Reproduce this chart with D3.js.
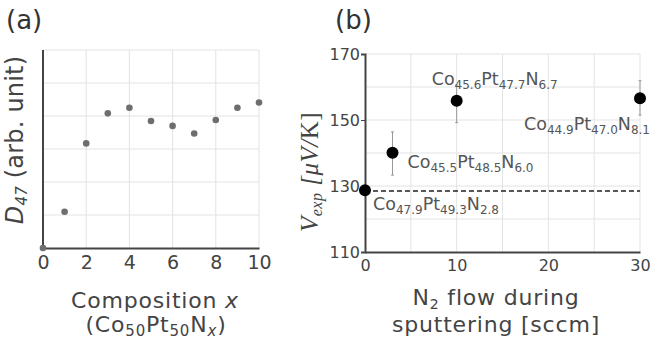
<!DOCTYPE html>
<html>
<head>
<meta charset="utf-8">
<script src="https://cdn.jsdelivr.net/npm/d3@7"></script>
<style>
  body { margin: 0; background: #fff; }
  svg { display: block; }
  .tick text { font-family: "DejaVu Sans", Verdana, sans-serif; fill: #444; }
</style>
</head>
<body>
<svg id="chart" width="651" height="345"></svg>
<script>
// panel (a): D47 vs composition x
var compX = [0, 1, 2, 3, 4, 5, 6, 7, 8, 9, 10];
var d47 = [0, 1.1, 3.17, 4.08, 4.25, 3.85, 3.7, 3.47, 3.88, 4.25, 4.41];
var compTicks = [0, 2, 4, 6, 8, 10];

// panel (b): Vexp vs N2 flow
var flow = [0, 3, 10, 30];
var vexp = [128.7, 140.1, 155.8, 156.6];
var errLo = [null, 133.3, 149.2, 151.5];
var errHi = [null, 146.4, 160.6, 161.9];
var coFrac = ["47.9", "45.5", "45.6", "44.9"];
var ptFrac = ["49.3", "48.5", "47.7", "47.0"];
var nFrac = ["2.8", "6.0", "6.7", "8.1"];
var refLine = 128.5;
var flowTicks = [0, 10, 20, 30];
var vTicks = [110, 130, 150, 170];

// label offsets from each point (px)
var labelOff = [[8, 20], [15, 15], [-25, -16], [-116, 32]];

var font = '"DejaVu Sans", Verdana, sans-serif';
var svg = d3.select("#chart");

// ---------- panel (a) ----------
var xa = d3.scaleLinear().domain([0, 10]).range([43, 259]);
var ya = d3.scaleLinear().domain([0, 6]).range([248, 50]);

var ga = svg.append("g");

ga.append("g").selectAll("line.v")
  .data(compTicks.slice(1)).enter().append("line")
  .attr("x1", d => xa(d)).attr("x2", d => xa(d))
  .attr("y1", ya(0)).attr("y2", ya(6))
  .attr("stroke", "#e3e3e3").attr("stroke-width", 1);

ga.append("g").selectAll("line.h")
  .data(d3.range(1, 7)).enter().append("line")
  .attr("x1", xa(0)).attr("x2", xa(10))
  .attr("y1", d => ya(d)).attr("y2", d => ya(d))
  .attr("stroke", "#e3e3e3").attr("stroke-width", 1);

ga.append("g")
  .attr("transform", "translate(0," + ya(0) + ")")
  .call(d3.axisBottom(xa).tickValues(compTicks).tickSize(0).tickPadding(8))
  .call(g => g.select(".domain").attr("stroke", "#444").attr("stroke-width", 2))
  .call(g => g.selectAll("text").attr("font-size", 19).attr("font-family", font));

ga.append("line")
  .attr("x1", xa(0)).attr("x2", xa(0))
  .attr("y1", ya(0)).attr("y2", ya(6))
  .attr("stroke", "#444").attr("stroke-width", 2);

ga.selectAll("circle")
  .data(compX).enter().append("circle")
  .attr("cx", (d, i) => xa(d))
  .attr("cy", (d, i) => ya(d47[i]))
  .attr("r", 3.3)
  .attr("fill", "#6e6e6e");

svg.append("text")
  .attr("x", 6).attr("y", 29)
  .attr("font-family", font).attr("font-size", 26).attr("fill", "#333")
  .text("(a)");

var ylabA = svg.append("text")
  .attr("transform", "translate(23,140) rotate(-90)")
  .attr("text-anchor", "middle")
  .attr("letter-spacing", 0.2)
  .attr("font-family", font).attr("font-size", 24).attr("fill", "#444");
ylabA.append("tspan").attr("font-style", "italic").text("D");
ylabA.append("tspan").attr("font-style", "italic").attr("font-size", 15).attr("dy", 4).text("47");
ylabA.append("tspan").attr("dy", -4).text(" (arb. unit)");

svg.append("text")
  .attr("x", 155).attr("y", 308).attr("text-anchor", "middle")
  .attr("letter-spacing", 0.8)
  .attr("font-family", font).attr("font-size", 22).attr("fill", "#444")
  .call(t => {
    t.append("tspan").text("Composition ");
    t.append("tspan").attr("font-style", "italic").text("x");
  });

svg.append("text")
  .attr("x", 156).attr("y", 332).attr("text-anchor", "middle")
  .attr("letter-spacing", 0.8)
  .attr("font-family", font).attr("font-size", 22).attr("fill", "#444")
  .call(t => {
    t.append("tspan").text("(Co");
    t.append("tspan").attr("font-size", 15).attr("dy", 4).text("50");
    t.append("tspan").attr("dy", -4).text("Pt");
    t.append("tspan").attr("font-size", 15).attr("dy", 4).text("50");
    t.append("tspan").attr("dy", -4).text("N");
    t.append("tspan").attr("font-size", 15).attr("dy", 4).attr("font-style", "italic").text("x");
    t.append("tspan").attr("dy", -4).text(")");
  });

// ---------- panel (b) ----------
var xb = d3.scaleLinear().domain([0, 30]).range([365, 640]);
var yb = d3.scaleLinear().domain([110, 170]).range([252, 54]);

var gb = svg.append("g");

gb.append("g").selectAll("line")
  .data(d3.range(5, 35, 5)).enter().append("line")
  .attr("x1", d => xb(d)).attr("x2", d => xb(d))
  .attr("y1", yb(110)).attr("y2", yb(170))
  .attr("stroke", "#e3e3e3").attr("stroke-width", 1);

gb.append("g").selectAll("line")
  .data(d3.range(120, 180, 10)).enter().append("line")
  .attr("x1", xb(0)).attr("x2", xb(30))
  .attr("y1", d => yb(d)).attr("y2", d => yb(d))
  .attr("stroke", "#e3e3e3").attr("stroke-width", 1);

gb.append("g")
  .attr("transform", "translate(0," + yb(110) + ")")
  .call(d3.axisBottom(xb).tickValues(flowTicks).tickSize(0).tickPadding(8))
  .call(g => g.select(".domain").attr("stroke", "#444").attr("stroke-width", 2))
  .call(g => g.selectAll("text").attr("font-size", 16).attr("font-family", font));

gb.append("g")
  .attr("transform", "translate(" + xb(0) + ",0)")
  .call(d3.axisLeft(yb).tickValues(vTicks).tickSize(4).tickPadding(1))
  .call(g => g.select(".domain").attr("stroke", "#444").attr("stroke-width", 2))
  .call(g => g.selectAll(".tick line").attr("stroke", "#444"))
  .call(g => g.selectAll("text").attr("font-size", 16).attr("font-family", font));

gb.append("line")
  .attr("x1", xb(0)).attr("x2", xb(30))
  .attr("y1", yb(refLine)).attr("y2", yb(refLine))
  .attr("stroke", "#222").attr("stroke-width", 1.5)
  .attr("stroke-dasharray", "5,3");

var errIdx = d3.range(flow.length).filter(i => errLo[i] != null);
gb.append("g").selectAll("line")
  .data(errIdx).enter().append("line")
  .attr("x1", i => xb(flow[i])).attr("x2", i => xb(flow[i]))
  .attr("y1", i => yb(errLo[i])).attr("y2", i => yb(errHi[i]))
  .attr("stroke", "#999").attr("stroke-width", 1);
gb.append("g").selectAll("path")
  .data(errIdx).enter().append("path")
  .attr("d", i => "M" + (xb(flow[i]) - 1.5) + "," + yb(errLo[i]) + "h3M" + (xb(flow[i]) - 1.5) + "," + yb(errHi[i]) + "h3")
  .attr("stroke", "#999").attr("stroke-width", 1);

gb.selectAll("circle")
  .data(flow).enter().append("circle")
  .attr("cx", d => xb(d))
  .attr("cy", (d, i) => yb(vexp[i]))
  .attr("r", 6)
  .attr("fill", "#000");

gb.selectAll("text.lbl")
  .data(flow).enter().append("text")
  .attr("class", "lbl")
  .attr("x", (d, i) => xb(d) + labelOff[i][0])
  .attr("y", (d, i) => yb(vexp[i]) + labelOff[i][1])
  .attr("font-family", font).attr("font-size", 17.5).attr("fill", "#555")
  .each(function (d, i) {
    var t = d3.select(this);
    t.append("tspan").text("Co");
    t.append("tspan").attr("font-size", 12).attr("dy", 4).text(coFrac[i]);
    t.append("tspan").attr("dy", -4).text("Pt");
    t.append("tspan").attr("font-size", 12).attr("dy", 4).text(ptFrac[i]);
    t.append("tspan").attr("dy", -4).text("N");
    t.append("tspan").attr("font-size", 12).attr("dy", 4).text(nFrac[i]);
  });

svg.append("text")
  .attr("x", 335).attr("y", 29)
  .attr("font-family", font).attr("font-size", 26).attr("fill", "#333")
  .text("(b)");

var ylabB = svg.append("text")
  .attr("transform", "translate(318,172) rotate(-90)")
  .attr("text-anchor", "middle")
  .attr("letter-spacing", 0.5)
  .attr("font-family", '"Liberation Serif", "Times New Roman", serif')
  .attr("font-size", 25).attr("fill", "#444");
ylabB.append("tspan").attr("font-style", "italic").text("V");
ylabB.append("tspan").attr("font-style", "italic").attr("font-size", 16).attr("dy", 4).text("exp");
ylabB.append("tspan").attr("font-style", "italic").attr("dy", -4).text(" [μV/");
ylabB.append("tspan").text("K]");

svg.append("text")
  .attr("x", 496).attr("y", 305).attr("text-anchor", "middle")
  .attr("letter-spacing", 0.8)
  .attr("font-family", font).attr("font-size", 22).attr("fill", "#444")
  .call(t => {
    t.append("tspan").text("N");
    t.append("tspan").attr("font-size", 14).attr("dy", 4).text("2");
    t.append("tspan").attr("dy", -4).text(" flow during");
  });

svg.append("text")
  .attr("x", 496).attr("y", 332).attr("text-anchor", "middle")
  .attr("letter-spacing", 0.8)
  .attr("font-family", font).attr("font-size", 22).attr("fill", "#444")
  .text("sputtering [sccm]");
</script>
</body>
</html>
